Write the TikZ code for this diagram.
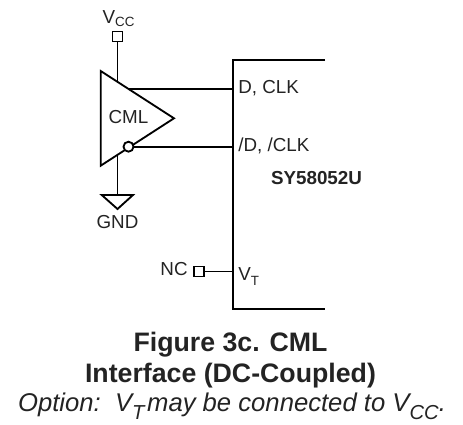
\documentclass[tikz,border=0pt]{standalone}
\usepackage{fontspec}
\setmainfont{Liberation Sans}
\definecolor{labelGray}{RGB}{35,35,35}
\tikzset{
  wire/.style={line width=1.05pt,black},
  pad/.style={rectangle,draw,line width=1.1pt,fill=white,minimum size=0.2cm,inner sep=0pt},
  bubble/.style={circle,draw,line width=1.05pt,fill=white,minimum size=0.2cm,inner sep=0pt},
  lbl/.style={font=\fontsize{10.7}{12}\selectfont,text=labelGray,inner sep=0pt},
  captiontext/.style={font=\fontsize{15.2}{17.5}\selectfont\bfseries,text=labelGray,align=center,inner sep=0pt}
}
\begin{document}
\begin{tikzpicture}
\useasboundingbox (0,0) rectangle (9.26,8.48);
% Buffer
\coordinate (tl) at (2.014,7.06);
\coordinate (bl) at (2.014,5.166);
\coordinate (apex) at (3.48,6.114);
\draw[wire,line join=miter] (tl) -- (apex) -- (bl) -- cycle;
\node[lbl] (cml) at (2.57,6.14) {CML};
% Receiver box
\coordinate (boxtr) at (6.5,7.28);
\coordinate (boxtl) at (4.654,7.28);
\coordinate (boxbl) at (4.654,2.3);
\coordinate (boxbr) at (6.5,2.3);
\draw[wire] (boxtr) -- (boxtl) -- (boxbl) -- (boxbr);
% Pins
\coordinate (pinD) at (4.654,6.694);
\coordinate (pinDn) at (4.654,5.546);
\coordinate (pinVt) at (4.654,3.05);
\coordinate (outP) at (2.58,6.694);
\coordinate (supply) at (2.35,6.843);
\coordinate (sink) at (2.35,5.383);
\node[pad] (vcc) at (2.35,7.75) {};
\node[bubble] (outN) at (2.57,5.546) {};
\node[pad] (nc) at (3.98,3.05) {};
\coordinate (gndtop) at (2.35,4.58);
\coordinate (gndl) at (2.034,4.58);
\coordinate (gndr) at (2.66,4.58);
\coordinate (gndtip) at (2.35,4.30);
% Connections
\draw[wire] (vcc) -- (supply);
\draw[wire] (sink) -- (gndtop);
\draw[wire] (outP) -- (pinD);
\draw[wire] (outN) -- (pinDn);
\draw[wire] (nc) -- (pinVt);
\draw[wire] (gndl) -- (gndr) -- (gndtip) -- cycle;
% Labels
\node[lbl] (vcclabel) at (2.37,8.1) {V\raisebox{-1.8pt}{\fontsize{7.6}{9}\selectfont CC}};
\node[lbl] (gndlabel) at (2.35,4.03) {GND};
\node[lbl,anchor=east] (nclabel) at (3.76,3.09) {NC};
\node[lbl,anchor=west] (dlabel) at (4.76,6.72) {D, CLK};
\node[lbl,anchor=west] (dnlabel) at (4.76,5.56) {/D, /CLK};
\node[lbl,anchor=base west] (vtlabel) at (4.76,2.86) {V\raisebox{-2.8pt}{\fontsize{7.6}{9}\selectfont T}};
\node[lbl,font=\fontsize{10.7}{12}\selectfont\bfseries] (part) at (6.33,4.92) {SY58052U};
% Caption
\node[captiontext] (title) at (4.61,1.28) {Figure 3c. CML\\Interface (DC-Coupled)};
\node[anchor=base,font=\fontsize{14.6}{16}\selectfont\itshape,text=labelGray,inner sep=0pt] (note) at (4.64,0.26) {Option:\ \ V\raisebox{-5pt}{\fontsize{11.5}{12}\selectfont T}\kern1.5pt may be connected to V\raisebox{-5pt}{\fontsize{11.5}{12}\selectfont CC}.};
\end{tikzpicture}
\end{document}
